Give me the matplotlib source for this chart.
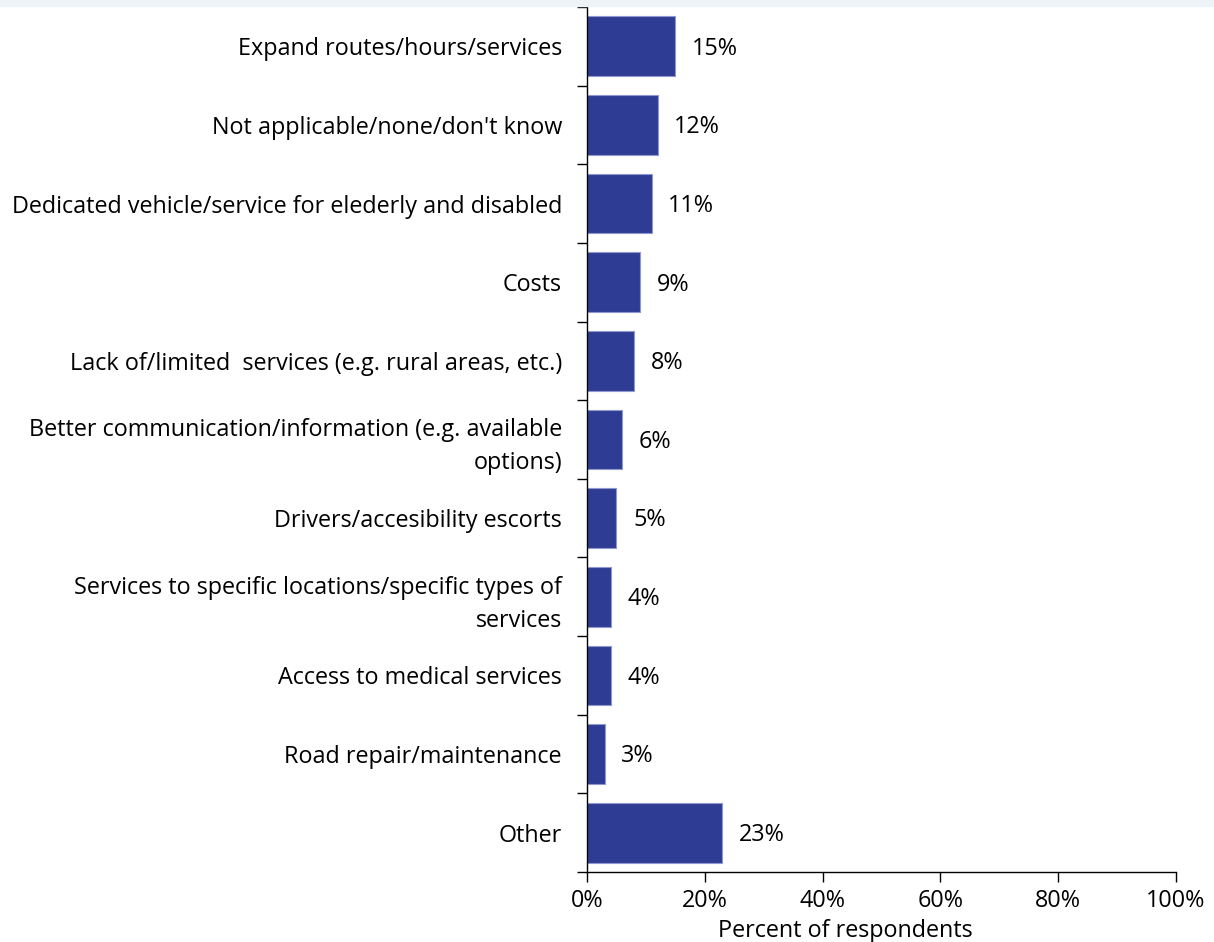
import matplotlib.pyplot as plt
from matplotlib.patches import Rectangle
from matplotlib.ticker import FixedLocator, NullFormatter

categories = [
    'Expand routes/hours/services',
    "Not applicable/none/don't know",
    'Dedicated vehicle/service for elederly and disabled',
    'Costs',
    'Lack of/limited  services (e.g. rural areas, etc.)',
    'Better communication/information (e.g. available\noptions)',
    'Drivers/accesibility escorts',
    'Services to specific locations/specific types of\nservices',
    'Access to medical services',
    'Road repair/maintenance',
    'Other',
]
values = [15, 12, 11, 9, 8, 6, 5, 4, 4, 3, 23]
xticks = [0, 20, 40, 60, 80, 100]

plt.rcParams['font.family'] = ['Open Sans', 'DejaVu Sans']
fs = 16.8

W, H = 1214, 942
fig = plt.figure(figsize=(W / 100, H / 100), dpi=100)
fig.patches.append(Rectangle((0, 1 - 6 / H), 1, 6 / H, transform=fig.transFigure,
                             color='#eef3f7', zorder=0))

ax = fig.add_axes([587 / W, 1 - 872 / H, (1176 - 587) / W, (872 - 7) / H])

n = len(categories)
y = list(range(n))
ax.barh(y, values, height=0.76, color='#2e3d93', edgecolor='#8f98cc', linewidth=0.8)
for yi, v in zip(y, values):
    ax.text(v + 2.8, yi + 0.03, '%d%%' % v, va='center', ha='left', fontsize=fs)

ax.set_ylim(n - 0.5, -0.5)
ax.set_xlim(0, 100)
ax.set_yticks(y)
ax.set_yticklabels(categories, fontsize=fs, ha='right', linespacing=1.5)
ax.tick_params(axis='y', length=0, pad=18)
ax.yaxis.set_minor_locator(FixedLocator([i - 0.5 for i in range(n + 1)]))
ax.yaxis.set_minor_formatter(NullFormatter())
ax.tick_params(axis='y', which='minor', length=7, width=1, color='black', direction='out')

ax.set_xticks(xticks)
ax.set_xticklabels(['%d%%' % t for t in xticks], fontsize=fs)
ax.tick_params(axis='x', length=7, width=1, direction='out', pad=5)
ax.set_xlabel('Percent of respondents', fontsize=fs, labelpad=0)
ax.xaxis.set_label_coords(0.438, -0.054)

for s in ['top', 'right']:
    ax.spines[s].set_visible(False)
for s in ['left', 'bottom']:
    ax.spines[s].set_linewidth(1)

fig.savefig('out.png', dpi=100)
